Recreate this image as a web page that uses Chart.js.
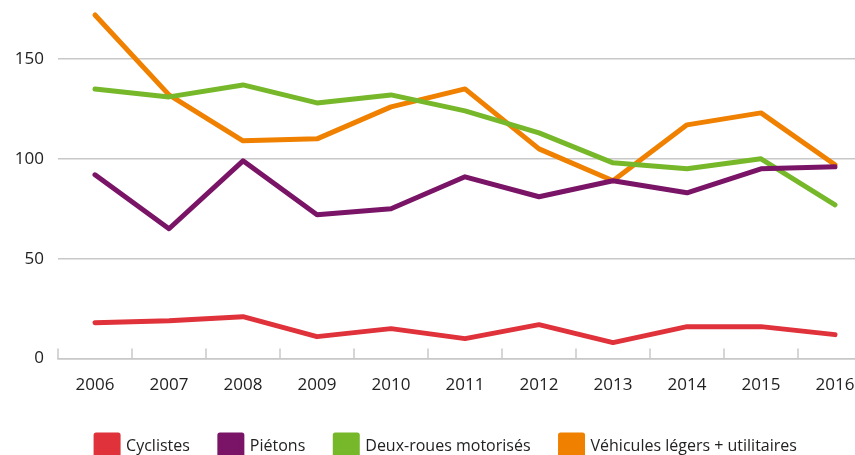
<!DOCTYPE html>
<html>
<head>
<meta charset="utf-8">
<script src="https://cdn.jsdelivr.net/npm/chart.js@4"></script>
<style>
  html, body { margin: 0; padding: 0; background: #fff; overflow: hidden; }
  #wrap { position: relative; width: 872px; height: 473px; }
</style>
</head>
<body>
<div id="wrap"><canvas id="line-chart"></canvas></div>
<script>
const years = ["2006", "2007", "2008", "2009", "2010", "2011", "2012", "2013", "2014", "2015", "2016"];
const cyclistes = [18, 19, 21, 11, 15, 10, 17, 8, 16, 16, 12];
const pietons = [92, 65, 99, 72, 75, 91, 81, 89, 83, 95, 96];
const deuxRoues = [135, 131, 137, 128, 132, 124, 113, 98, 95, 100, 77];
const vehicules = [172, 132, 109, 110, 126, 135, 105, 89, 117, 123, 97];
const yTicks = [0, 50, 100, 150];

const gridColor = "#c8c8c8";
const textColor = "#222222";

// petits traits verticaux au-dessus de l'axe X, entre les categories
const innerTicks = {
    id: "innerTicks",
    afterLayout(chart) {
        // legende centree sur 21..872 et remontee un peu, comme dans l'original
        chart.legend.left = 21;
        chart.legend.top -= 6;
        chart.legend.bottom -= 6;
    },
    afterDraw(chart) {
        const x = chart.scales.x;
        const ctx = chart.ctx;
        const half = (x.getPixelForValue(1) - x.getPixelForValue(0)) / 2;
        ctx.save();
        ctx.strokeStyle = gridColor;
        ctx.lineWidth = 1.5;
        for (let i = 0; i <= years.length; i++) {
            const px = x.getPixelForValue(i) - half;
            ctx.beginPath();
            ctx.moveTo(px, x.top);
            ctx.lineTo(px, x.top - 10);
            ctx.stroke();
        }
        ctx.restore();
    },
};

const ctx = document.querySelector("#line-chart").getContext("2d");
new Chart(ctx, {
    type: "line",
    data: {
        labels: years,
        datasets: [
            { label: "Cyclistes", data: cyclistes, borderColor: "#e0323a", backgroundColor: "#e0323a" },
            { label: "Piétons", data: pietons, borderColor: "#7a1466", backgroundColor: "#7a1466" },
            { label: "Deux-roues motorisés", data: deuxRoues, borderColor: "#76b82a", backgroundColor: "#76b82a" },
            { label: "Véhicules légers + utilitaires", data: vehicules, borderColor: "#f08000", backgroundColor: "#f08000" },
        ],
    },
    options: {
        responsive: true,
        maintainAspectRatio: false,
        animation: false,
        layout: { padding: { left: 0, right: 0, top: 9, bottom: 0 } },
        elements: {
            line: { borderWidth: 5, tension: 0, borderCapStyle: "round", borderJoinStyle: "round" },
            point: { radius: 0, hoverRadius: 0 },
        },
        scales: {
            x: {
                offset: true,
                border: { display: true, color: gridColor, width: 1.5 },
                grid: { display: true, offset: true, drawOnChartArea: false, drawTicks: false, color: gridColor },
                ticks: { color: textColor, font: { family: "'Open Sans'", size: 17 }, padding: 16, maxRotation: 0 },
            },
            y: {
                min: 0,
                max: 175,
                border: { display: false },
                grid: { color: gridColor, lineWidth: 1.5, drawTicks: false },
                afterBuildTicks: (scale) => {
                    scale.ticks = yTicks.map((v) => ({ value: v }));
                },
                afterFit: (scale) => {
                    scale.width = 58;
                    scale.paddingTop = 0;
                    scale.paddingBottom = 0;
                },
                ticks: { color: textColor, font: { family: "'Open Sans'", size: 17 }, padding: 14 },
            },
        },
        plugins: {
            legend: {
                position: "bottom",
                labels: {
                    color: textColor,
                    font: { family: "'Open Sans'", size: 16 },
                    boxWidth: 22,
                    boxHeight: 22,
                    padding: 30,
                },
            },
            tooltip: { enabled: false },
        },
    },
    plugins: [innerTicks],
});
</script>
</body>
</html>
